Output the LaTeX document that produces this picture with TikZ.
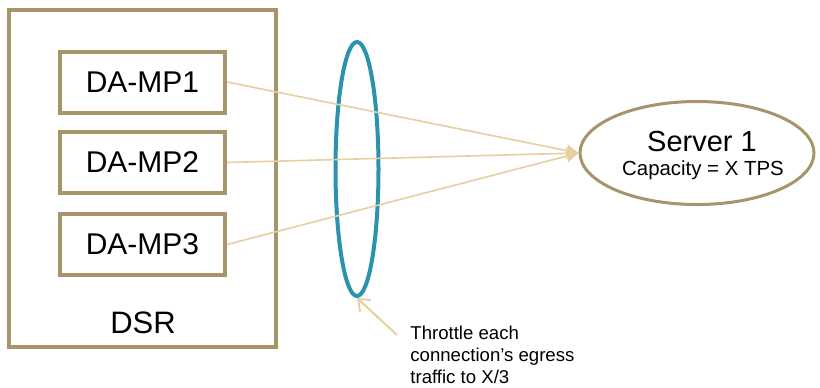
\documentclass[tikz,border=0pt]{standalone}
\usepackage{fontspec}
\setmainfont{Liberation Sans}
\usetikzlibrary{shapes.geometric,arrows.meta}
\definecolor{boxbrown}{HTML}{A8946A}
\definecolor{linktan}{HTML}{E6CFA0}
\definecolor{ringblue}{HTML}{2B93AD}
\begin{document}
\begin{tikzpicture}[x=0.5pt,y=-0.5pt,
    mpbox/.style={draw=boxbrown,line width=2pt,minimum width=82.5pt,
      minimum height=30.5pt,inner sep=0pt,font=\fontsize{15}{17}\selectfont},
    link/.style={draw=linktan,line width=0.8pt,-{Triangle[length=6pt,width=6pt]}}]
  \useasboundingbox (0,0) rectangle (820,387);
  \node[draw=boxbrown,line width=2pt,minimum width=133.5pt,minimum height=168.5pt,
    inner sep=0pt] (dsr) at (142.5,178.5) {};
  \node[font=\fontsize{15.5}{17}\selectfont] (dsrtext) at (143,323) {DSR};
  \node[mpbox] (mp1) at (142.5,82) {DA-MP1};
  \node[mpbox] (mp2) at (142.5,162.5) {DA-MP2};
  \node[mpbox] (mp3) at (142.5,244.5) {DA-MP3};
  \node[ellipse,draw=ringblue,line width=2pt,minimum width=21.5pt,
    minimum height=127pt,inner sep=0pt] (ring) at (357,169) {};
  \node[ellipse,draw=boxbrown,line width=1.5pt,minimum width=117pt,
    minimum height=51.5pt,inner sep=0pt] (server) at (697,153) {};
  \node[font=\fontsize{14.5}{16}\selectfont] (servername) at (702,142) {Server 1};
  \node[font=\fontsize{10.2}{12}\selectfont] (capacity) at (703,170) {Capacity = X TPS};
  \node[anchor=north west,align=left,inner sep=0pt,
    font=\fontsize{9.3}{10.8}\selectfont] (note) at (410,326)
    {Throttle each\\connection's egress\\traffic to X/3};
  \coordinate (notetail) at (397,335);
  \begin{scope}[link]
    \draw (mp1.east) -- (server.west);
    \draw (mp2.east) -- (server.west);
    \draw (mp3.east) -- (server.west);
  \end{scope}
  \draw[draw=linktan,line width=1pt,-{Straight Barb[length=5pt,width=8pt]}]
    (notetail) -- (ring.south);
\end{tikzpicture}
\end{document}
